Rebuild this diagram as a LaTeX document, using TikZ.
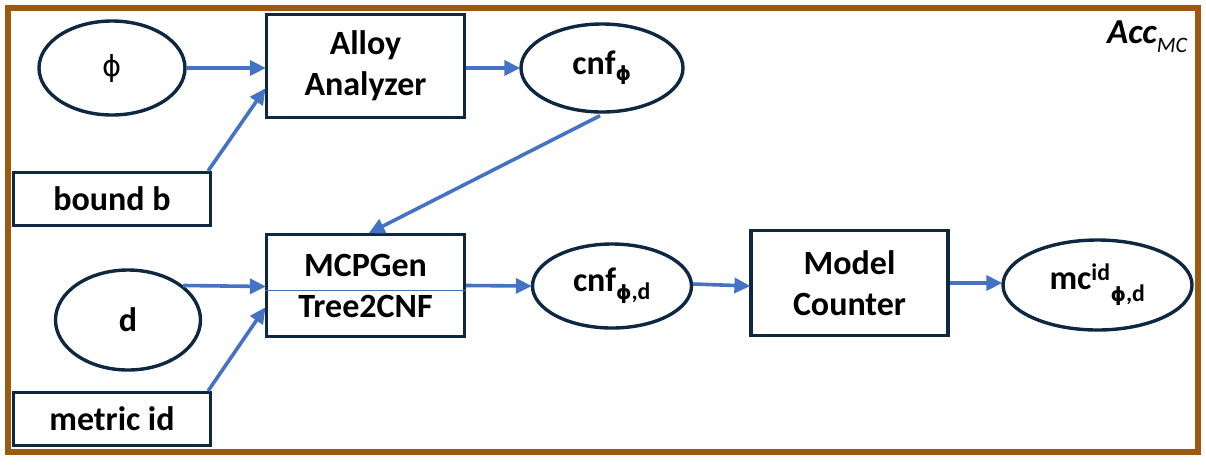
\documentclass[tikz,border=0pt]{standalone}
\usepackage{fontspec}
\setmainfont{Carlito}
\newfontfamily\phifont{DejaVu Sans}
\newcommand{\myphi}{{\phifont ϕ}}
\newcommand{\subphi}{\scalebox{0.82}{\phifont ϕ}}
\usetikzlibrary{arrows.meta,calc,shapes.geometric}
\definecolor{navy}{HTML}{0E2841}
\definecolor{arr}{HTML}{4472C4}
\definecolor{frame}{HTML}{9C5A10}
\begin{document}
\begin{tikzpicture}[x=1pt,y=-1pt,
  txt/.style={font=\fontsize{34}{41}\selectfont\bfseries, align=center, inner sep=0pt},
  boxn/.style={txt, draw=navy, line width=3.2pt, fill=white},
  elln/.style={txt, draw=navy, line width=3.4pt, ellipse, fill=white},
  conn/.style={draw=arr, line width=3.6pt, -{Triangle[length=16pt,width=15pt]}, shorten >=-1pt}]
\useasboundingbox (0,0) rectangle (1206,464);
\draw[frame, line width=6pt] (8,8) rectangle (1198,452);
\node[elln, minimum width=146pt, minimum height=94pt] (phi) at (112,68) {\fontsize{29}{29}\selectfont\mdseries\myphi};
\node[boxn, minimum width=198pt, minimum height=103pt] (alloy) at (365.5,66) {Alloy\\Analyzer};
\node[elln, minimum width=162pt, minimum height=88pt] (cnf) at (602,68) {cnf\textsubscript{\subphi}};
\node[boxn, minimum width=197pt, minimum height=53pt] (bound) at (112,199) {bound b};
\node[boxn, minimum width=198pt, minimum height=102pt] (mcp) at (365.5,285.5) {MCPGen\\Tree2CNF};
\node[elln, minimum width=145pt, minimum height=100pt] (d) at (128,320) {d};
\node[boxn, minimum width=197pt, minimum height=53pt] (metric) at (112,419) {metric id};
\node[elln, minimum width=159pt, minimum height=84pt] (cnfd) at (612,286) {cnf\textsubscript{\subphi,d}};
\node[boxn, minimum width=197pt, minimum height=105pt] (model) at (849.5,283) {Model\\Counter};
\node[elln, minimum width=189pt, minimum height=90pt] (mc) at (1097.5,285) {mc\textsuperscript{id}\raisebox{-4pt}{\textsubscript{\subphi,d}}};
\draw[arr, line width=1pt] ([yshift=-4.5pt]mcp.west) -- ([yshift=-4.5pt]mcp.east);
\node[font=\fontsize{35}{35}\selectfont\bfseries\itshape, inner sep=0pt, anchor=base west] (acc) at (1107,43) {Acc\raisebox{-9pt}{\fontsize{22}{22}\selectfont\mdseries MC}};
\draw[conn] (phi.east) -- (alloy.west |- phi.east);
\draw[conn] ($(bound.north east)+(-4,0)$) -- ($(alloy.south west)+(0,-30)$);
\draw[conn] (alloy.east |- cnf.west) -- (cnf.west);
\draw[conn] ($(cnf.south)+(-2,2)$) -- ($(mcp.north)+(4,0)$);
\draw[conn] (d.32) -- ($(mcp.west)+(0,1)$);
\draw[conn] ($(metric.north east)+(-4,0)$) -- ($(mcp.south west)+(0,-30)$);
\draw[conn] (mcp.east) -- (cnfd.west);
\draw[conn] ($(cnfd.east)+(0,-2)$) -- (model.west |- cnfd.east);
\draw[conn] (model.east) -- (mc.west |- model.east);
\end{tikzpicture}
\end{document}
